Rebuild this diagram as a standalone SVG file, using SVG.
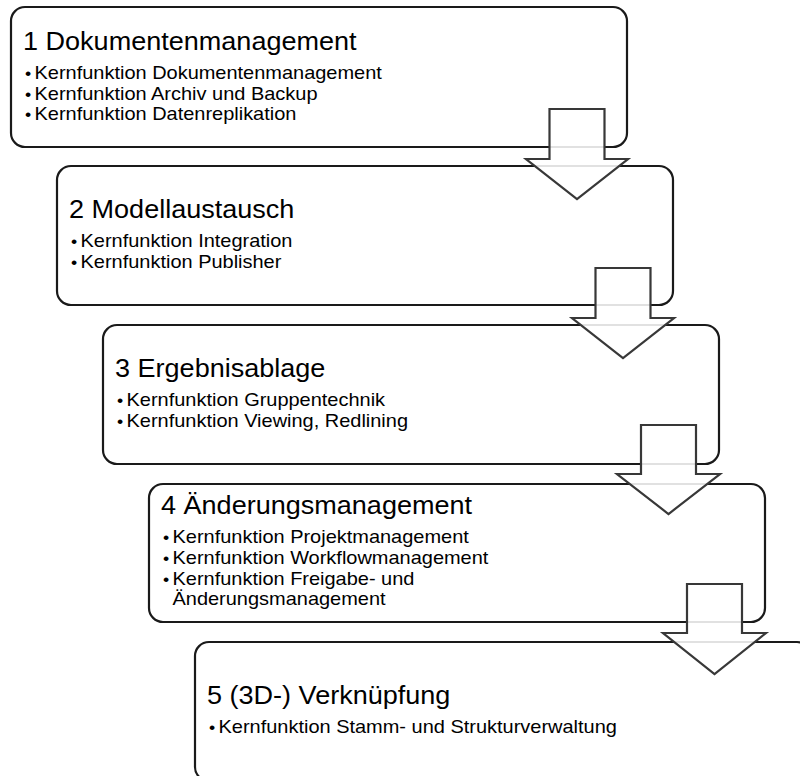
<svg xmlns="http://www.w3.org/2000/svg" width="800" height="776" viewBox="0 0 800 776">
<style>
.box{fill:#fff;stroke:#1a1a1a;stroke-width:2.2}
.arrow{fill:#fff;fill-opacity:0.87;stroke:#383838;stroke-width:2.2;stroke-linejoin:miter}
text{font-family:"Liberation Sans",Arial,sans-serif;fill:#000}
.title{font-size:26px}
.item{font-size:18px}
.dot{font-size:16px}
</style>
<rect width="800" height="776" fill="#fff"/>
<g id="node1">
<rect class="box" x="11" y="7" width="616" height="140" rx="14"/>
<text class="title" transform="translate(23 50) scale(1.04 1)">1 Dokumentenmanagement</text>
<text class="dot" transform="translate(25 79) scale(1.11 1)">•</text>
<text class="item" transform="translate(34.5 79) scale(1.11 1)">Kernfunktion Dokumentenmanagement</text>
<text class="dot" transform="translate(25 99.5) scale(1.11 1)">•</text>
<text class="item" transform="translate(34.5 99.5) scale(1.11 1)">Kernfunktion Archiv und Backup</text>
<text class="dot" transform="translate(25 120) scale(1.11 1)">•</text>
<text class="item" transform="translate(34.5 120) scale(1.11 1)">Kernfunktion Datenreplikation</text>
</g>
<g id="node2">
<rect class="box" x="57" y="166" width="616" height="139" rx="14"/>
<text class="title" transform="translate(69 218) scale(1.04 1)">2 Modellaustausch</text>
<text class="dot" transform="translate(71 247) scale(1.11 1)">•</text>
<text class="item" transform="translate(80.5 247) scale(1.11 1)">Kernfunktion Integration</text>
<text class="dot" transform="translate(71 268) scale(1.11 1)">•</text>
<text class="item" transform="translate(80.5 268) scale(1.11 1)">Kernfunktion Publisher</text>
</g>
<g id="node3">
<rect class="box" x="103" y="325" width="616" height="139" rx="14"/>
<text class="title" transform="translate(115 377) scale(1.04 1)">3 Ergebnisablage</text>
<text class="dot" transform="translate(117 406) scale(1.11 1)">•</text>
<text class="item" transform="translate(126.5 406) scale(1.11 1)">Kernfunktion Gruppentechnik</text>
<text class="dot" transform="translate(117 427) scale(1.11 1)">•</text>
<text class="item" transform="translate(126.5 427) scale(1.11 1)">Kernfunktion Viewing, Redlining</text>
</g>
<g id="node4">
<rect class="box" x="149" y="484" width="616" height="138" rx="14"/>
<text class="title" transform="translate(161 514) scale(1.04 1)">4 Änderungsmanagement</text>
<text class="dot" transform="translate(163 543) scale(1.11 1)">•</text>
<text class="item" transform="translate(172.5 543) scale(1.11 1)">Kernfunktion Projektmanagement</text>
<text class="dot" transform="translate(163 564) scale(1.11 1)">•</text>
<text class="item" transform="translate(172.5 564) scale(1.11 1)">Kernfunktion Workflowmanagement</text>
<text class="dot" transform="translate(163 585) scale(1.11 1)">•</text>
<text class="item" transform="translate(172.5 585) scale(1.11 1)">Kernfunktion Freigabe- und</text>
<text class="item" transform="translate(172.5 605) scale(1.11 1)">Änderungsmanagement</text>
</g>
<g id="node5">
<rect class="box" x="195" y="642" width="616" height="139" rx="14"/>
<text class="title" transform="translate(207 704) scale(1.04 1)">5 (3D-) Verknüpfung</text>
<text class="dot" transform="translate(209 733) scale(1.11 1)">•</text>
<text class="item" transform="translate(218.5 733) scale(1.11 1)">Kernfunktion Stamm- und Strukturverwaltung</text>
</g>
<g id="connectors">
<path class="arrow" d="M549.5,109 H604.5 V159 H628 L577,199 L526,159 H549.5 Z"/>
<path class="arrow" d="M595.5,268 H650.5 V318 H674 L623,358 L572,318 H595.5 Z"/>
<path class="arrow" d="M641,425 H696 V474 H720 L668.5,514 L617,474 H641 Z"/>
<path class="arrow" d="M687,584 H742 V633 H766 L714.5,674 L663,633 H687 Z"/>
</g>
</svg>
